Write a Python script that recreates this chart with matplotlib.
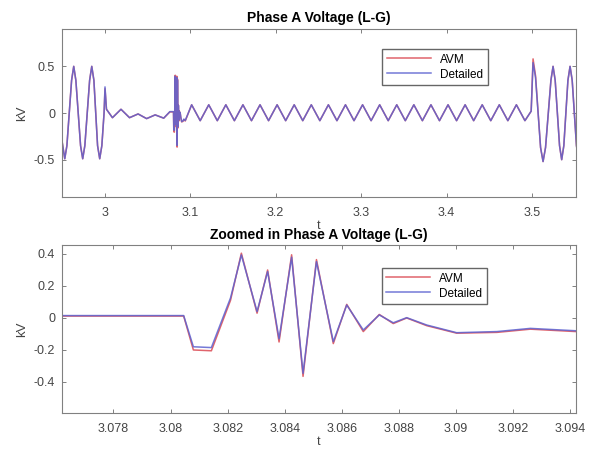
#!/usr/bin/env python3
"""Phase A voltage, AVM vs detailed model (full run + zoom on the transient)."""

import matplotlib
matplotlib.use("Agg")
import matplotlib.pyplot as plt

# points (t in s, v in kV)
t = [2.9500, 2.9532, 2.9557, 2.9612, 2.9637, 2.9662, 2.9717, 2.9742,
     2.9767, 2.9823, 2.9848, 2.9873, 2.9916, 2.9941, 2.9966, 2.9992,
     3.0003,
     3.0020, 3.0090, 3.0190, 3.0290, 3.0390, 3.0490, 3.0590, 3.0690,
     3.0762, 3.08046,
     3.0808, 3.08143, 3.0821, 3.08248, 3.08303, 3.0834, 3.0838, 3.08424,
     3.08464, 3.08511, 3.0857, 3.08617, 3.08675, 3.08731, 3.0878, 3.08827,
     3.08897, 3.09002, 3.09143, 3.0926, 3.0942,
     3.1017, 3.1117, 3.1217, 3.1317, 3.1417, 3.1517, 3.1617, 3.1717,
     3.1817, 3.1917, 3.2017, 3.2117, 3.2217, 3.2317, 3.2417, 3.2517,
     3.2617, 3.2717, 3.2817, 3.2917, 3.3017, 3.3117, 3.3217, 3.3317,
     3.3417, 3.3517, 3.3617, 3.3717, 3.3817, 3.3917, 3.4017, 3.4117,
     3.4217, 3.4317, 3.4417, 3.4517, 3.4617, 3.4717, 3.4817, 3.4917,
     3.4990, 3.5012, 3.5041, 3.5100, 3.5129, 3.5158, 3.5221, 3.5246,
     3.5271, 3.5322, 3.5347, 3.5372, 3.5420, 3.5445, 3.5470, 3.5520,
     3.5545]

v_detailed = [-0.30, -0.49, -0.35, 0.35, 0.50, 0.35, -0.35, -0.49,
              -0.35, 0.35, 0.50, 0.35, -0.35, -0.49, -0.35, 0.00,
              0.28,
              0.04, -0.05, 0.04, -0.05, -0.01, -0.06, -0.02, -0.055,
              0.015, 0.015,
              -0.18, -0.185, 0.125, 0.394, 0.04, 0.29, -0.13, 0.38,
              -0.346, 0.352, -0.148, 0.081, -0.075, 0.019, -0.03, 0.002,
              -0.044, -0.092, -0.085, -0.065, -0.08,
              0.088, -0.082, 0.088, -0.082, 0.088, -0.082, 0.088, -0.082,
              0.088, -0.082, 0.088, -0.082, 0.088, -0.082, 0.088, -0.082,
              0.088, -0.082, 0.088, -0.082, 0.088, -0.082, 0.088, -0.082,
              0.088, -0.082, 0.088, -0.082, 0.088, -0.082, 0.088, -0.082,
              0.088, -0.082, 0.088, -0.082, 0.088, -0.082, 0.088, -0.082,
              0.02, 0.54, 0.38, -0.37, -0.52, -0.37, 0.35, 0.50,
              0.35, -0.35, -0.50, -0.35, 0.35, 0.50, 0.35, -0.35,
              -0.50]

v_avm = [-0.30, -0.49, -0.35, 0.35, 0.50, 0.35, -0.35, -0.49,
         -0.35, 0.35, 0.50, 0.35, -0.35, -0.49, -0.35, 0.00,
         0.26,
         0.04, -0.05, 0.04, -0.05, -0.01, -0.06, -0.02, -0.055,
         0.012, 0.012,
         -0.20, -0.205, 0.11, 0.405, 0.03, 0.30, -0.15, 0.395,
         -0.365, 0.365, -0.16, 0.085, -0.085, 0.022, -0.035, 0.0,
         -0.048, -0.095, -0.09, -0.07, -0.085,
         0.088, -0.082, 0.088, -0.082, 0.088, -0.082, 0.088, -0.082,
         0.088, -0.082, 0.088, -0.082, 0.088, -0.082, 0.088, -0.082,
         0.088, -0.082, 0.088, -0.082, 0.088, -0.082, 0.088, -0.082,
         0.088, -0.082, 0.088, -0.082, 0.088, -0.082, 0.088, -0.082,
         0.088, -0.082, 0.088, -0.082, 0.088, -0.082, 0.088, -0.082,
         0.02, 0.58, 0.40, -0.37, -0.52, -0.37, 0.35, 0.50,
         0.35, -0.35, -0.50, -0.35, 0.35, 0.50, 0.35, -0.35,
         -0.50]

top_xticks = [3.0, 3.1, 3.2, 3.3, 3.4, 3.5]
top_xlabels = ["3", "3.1", "3.2", "3.3", "3.4", "3.5"]
top_yticks = [-0.5, 0.0, 0.5]
top_ylabels = ["-0.5", "0", "0.5"]

zoom_xticks = [3.078, 3.080, 3.082, 3.084, 3.086, 3.088, 3.090, 3.092, 3.094]
zoom_xlabels = ["3.078", "3.08", "3.082", "3.084", "3.086", "3.088",
                "3.09", "3.092", "3.094"]
zoom_yticks = [-0.4, -0.2, 0.0, 0.2, 0.4]
zoom_ylabels = ["-0.4", "-0.2", "0", "0.2", "0.4"]

plt.rcParams["font.family"] = ["Liberation Sans", "DejaVu Sans"]

AVM_COLOR = "#e0646c"
DET_COLOR = "#5c62d0"
TXT = "#454545"


def style_axes(ax, xticks, xlabels, yticks, ylabels):
    ax.set_xticks(xticks)
    ax.set_xticklabels(xlabels)
    ax.set_yticks(yticks)
    ax.set_yticklabels(ylabels)
    ax.tick_params(direction="in", top=True, right=True, length=3,
                   width=0.7, colors="#808080", labelcolor=TXT, labelsize=9)
    ax.tick_params(axis="x", pad=7)
    ax.tick_params(axis="y", pad=5)
    for sp in ax.spines.values():
        sp.set_color("#808080")
        sp.set_linewidth(0.8)
    ax.set_xlabel("t", fontsize=9, color=TXT, labelpad=1)
    ax.set_ylabel("kV", fontsize=9.5, color=TXT, labelpad=4)


fig = plt.figure(figsize=(5.89, 4.5), dpi=100)
ax1 = fig.add_axes([0.1053, 0.5622, 0.8727, 0.3733])
ax2 = fig.add_axes([0.1053, 0.0822, 0.8727, 0.3733])

for ax in (ax1, ax2):
    ax.plot(t, v_avm, color=AVM_COLOR, linewidth=1.1, label="AVM")
    ax.plot(t, v_detailed, color=DET_COLOR, linewidth=1.1, alpha=0.85,
            label="Detailed")

ax1.set_xlim(2.95, 3.5515)
ax1.set_ylim(-0.9, 0.9)
style_axes(ax1, top_xticks, top_xlabels, top_yticks, top_ylabels)
ax1.set_title("Phase A Voltage (L-G)", fontsize=10, fontweight="bold",
              pad=5)
ax1.legend(loc="upper right", bbox_to_anchor=(0.84, 0.917), fontsize=8.5,
           handlelength=3.7, fancybox=False, framealpha=1,
           edgecolor="#666666", borderpad=0.4, labelspacing=0.25)

ax2.set_xlim(3.0762, 3.0942)
ax2.set_ylim(-0.594, 0.456)
style_axes(ax2, zoom_xticks, zoom_xlabels, zoom_yticks, zoom_ylabels)
ax2.set_title("Zoomed in Phase A Voltage (L-G)", fontsize=10,
              fontweight="bold", pad=4)
ax2.legend(loc="upper right", bbox_to_anchor=(0.8385, 0.899), fontsize=8.5,
           handlelength=3.7, fancybox=False, framealpha=1,
           edgecolor="#666666", borderpad=0.4, labelspacing=0.25)

fig.savefig("out.png", dpi=100)
plt.close(fig)
